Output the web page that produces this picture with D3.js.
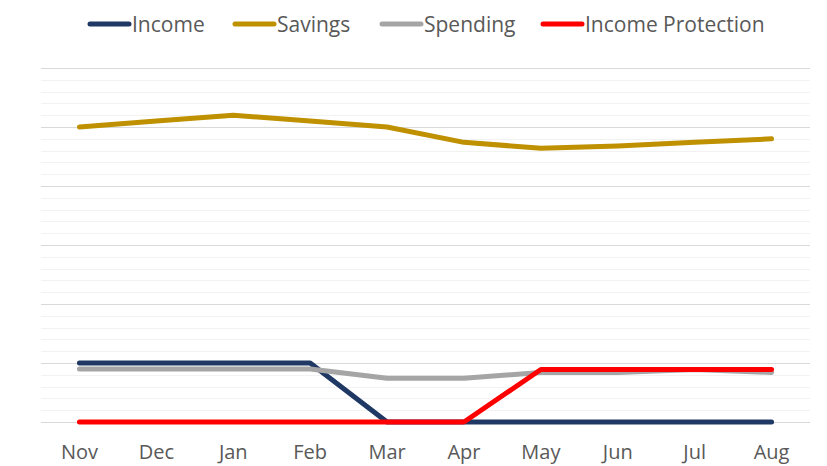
<!DOCTYPE html>
<html>
<head>
<meta charset="utf-8">
<script src="https://cdn.jsdelivr.net/npm/d3@7"></script>
<style>
  body { margin: 0; background: #ffffff; }
  svg { display: block; }
</style>
</head>
<body>
<div id="chart"></div>
<script>
// Monthly line chart: Income, Savings, Spending, Income Protection

const months = ["Nov", "Dec", "Jan", "Feb", "Mar", "Apr", "May", "Jun", "Jul", "Aug"];

const income           = [5.0, 5.0, 5.0, 5.0, 0, 0, 0, 0, 0, 0];
const savings          = [25.0, 25.5, 26.0, 25.5, 25.0, 23.7, 23.2, 23.4, 23.7, 24.0];
const spending         = [4.5, 4.5, 4.5, 4.5, 3.7, 3.7, 4.2, 4.2, 4.45, 4.2];
const incomeProtection = [0, 0, 0, 0, 0, 0, 4.45, 4.45, 4.45, 4.45];

const seriesNames = ["Income", "Savings", "Spending", "Income Protection"];
const seriesColors = ["#1f3864", "#bf9000", "#a5a5a5", "#ff0000"];
const seriesValues = [income, savings, spending, incomeProtection];

const width = 827, height = 466;
const margin = { top: 68, right: 17, bottom: 44, left: 41 };
const fontFamily = "'Open Sans', sans-serif";

const svg = d3.select("#chart")
  .append("svg")
  .attr("width", width)
  .attr("height", height)
  .style("background", "#ffffff");

const x = d3.scaleBand()
  .domain(months)
  .range([margin.left, width - margin.right]);

const y = d3.scaleLinear()
  .domain([0, 30])
  .range([height - margin.bottom, margin.top]);

// minor grid lines
svg.append("g")
  .selectAll("line")
  .data(d3.range(0, 31, 1).filter(d => d % 5 !== 0))
  .join("line")
  .attr("x1", margin.left)
  .attr("x2", width - margin.right)
  .attr("y1", d => Math.round(y(d)) + 0.5)
  .attr("y2", d => Math.round(y(d)) + 0.5)
  .attr("stroke", "#f2f2f2")
  .attr("stroke-width", 1);

// major grid lines
svg.append("g")
  .selectAll("line")
  .data(d3.range(0, 31, 5))
  .join("line")
  .attr("x1", margin.left)
  .attr("x2", width - margin.right)
  .attr("y1", d => Math.round(y(d)) + 0.5)
  .attr("y2", d => Math.round(y(d)) + 0.5)
  .attr("stroke", "#d9d9d9")
  .attr("stroke-width", 1);

// x axis labels
const xAxis = svg.append("g")
  .attr("transform", `translate(0,${height - margin.bottom})`)
  .call(d3.axisBottom(x).tickSize(0).tickPadding(23));
xAxis.select(".domain").remove();
xAxis.selectAll("text")
  .attr("fill", "#595959")
  .style("font-size", "20px")
  .style("font-family", fontFamily);

// lines
const line = d3.line()
  .x((d, i) => x(months[i]) + x.bandwidth() / 2)
  .y(d => y(d));

svg.append("g")
  .selectAll("path")
  .data(seriesValues)
  .join("path")
  .attr("d", d => line(d))
  .attr("fill", "none")
  .attr("stroke", (d, i) => seriesColors[i])
  .attr("stroke-width", 5)
  .attr("stroke-linecap", "round")
  .attr("stroke-linejoin", "round");

// legend
const legendX = [88, 233, 380, 541];
const legend = svg.append("g");
seriesNames.forEach((name, i) => {
  const g = legend.append("g").attr("transform", `translate(${legendX[i]},24)`);
  g.append("line")
    .attr("x1", 2)
    .attr("x2", 41)
    .attr("stroke", seriesColors[i])
    .attr("stroke-width", 5)
    .attr("stroke-linecap", "round");
  g.append("text")
    .attr("x", 44)
    .attr("y", 8)
    .attr("fill", "#595959")
    .style("font-size", "21px")
    .style("font-family", fontFamily)
    .text(name);
});
</script>
</body>
</html>
